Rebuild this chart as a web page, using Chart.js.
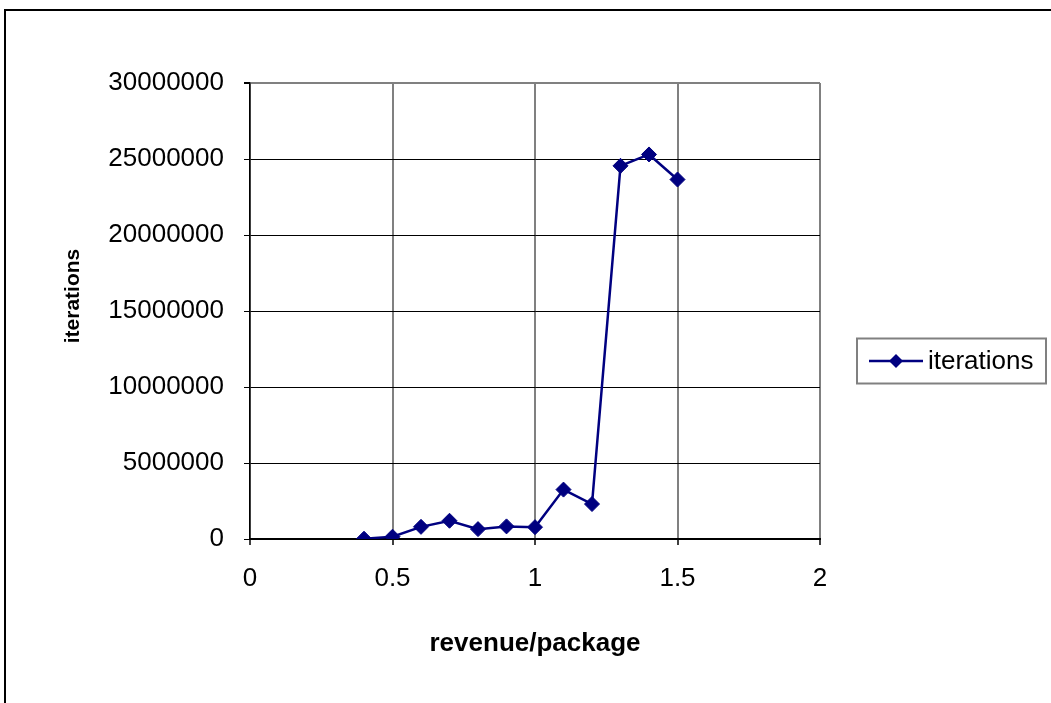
<!DOCTYPE html>
<html>
<head>
<meta charset="utf-8">
<script src="https://cdn.jsdelivr.net/npm/chart.js@4/dist/chart.umd.min.js"></script>
<style>
  html, body { margin: 0; padding: 0; background: #fff; }
  #wrap { width: 1051px; height: 703px; }
</style>
</head>
<body>
<div id="wrap"><canvas id="c" width="1051" height="703"></canvas></div>
<script>
// revenue per package (x) and the iteration count reached (y)
const revenue = [0.4, 0.5, 0.6, 0.7, 0.8, 0.9, 1.0, 1.1, 1.2, 1.3, 1.4, 1.5];
const iterations = [20000, 150000, 800000, 1200000, 650000, 830000, 780000,
                    3250000, 2300000, 24550000, 25300000, 23650000];
const xTicks = [0, 0.5, 1, 1.5, 2];
const yTicks = [0, 5000000, 10000000, 15000000, 20000000, 25000000, 30000000];

const seriesName = 'iterations';
const xTitle = 'revenue/package';
const yTitle = 'iterations';

const FONT = "'Liberation Sans', Arial, sans-serif";
const NAVY = '#000080';

const points = revenue.map((x, i) => ({ x: x, y: iterations[i] }));

// frame round the whole chart (only left and top edges fall inside the page)
const framePlugin = {
  id: 'frame',
  beforeDraw(chart) {
    const ctx = chart.ctx;
    ctx.save();
    ctx.fillStyle = '#fff';
    ctx.fillRect(0, 0, chart.width, chart.height);
    ctx.strokeStyle = '#000';
    ctx.lineWidth = 2;
    ctx.beginPath();
    ctx.moveTo(5, chart.height + 5);
    ctx.lineTo(5, 10);
    ctx.lineTo(chart.width + 5, 10);
    ctx.stroke();
    ctx.restore();
  }
};

// rotated value-axis title, set a little above the plot's middle
const yTitlePlugin = {
  id: 'yTitle',
  afterDraw(chart) {
    const ctx = chart.ctx;
    const area = chart.chartArea;
    ctx.save();
    ctx.translate(73, (area.top + area.bottom) / 2 - 15);
    ctx.rotate(-Math.PI / 2);
    ctx.fillStyle = '#000';
    ctx.font = 'bold 21px ' + FONT;
    ctx.textAlign = 'center';
    ctx.textBaseline = 'middle';
    ctx.fillText(yTitle, 0, 0);
    ctx.restore();
  }
};

// boxed legend: line with a diamond marker, then the series name
const legendPlugin = {
  id: 'boxLegend',
  afterDraw(chart) {
    const ctx = chart.ctx;
    const area = chart.chartArea;
    const ds = chart.data.datasets[0];
    const left = area.right + 37;
    const right = chart.width - 5;
    const cy = (area.top + area.bottom) / 2 + 50;
    const h = 45;
    ctx.save();
    ctx.strokeStyle = '#808080';
    ctx.lineWidth = 2;
    ctx.strokeRect(left, cy - h / 2, right - left, h);
    // sample line
    const lx0 = left + 12, lx1 = left + 66, mx = (lx0 + lx1) / 2;
    ctx.strokeStyle = ds.borderColor;
    ctx.lineWidth = 2.5;
    ctx.beginPath();
    ctx.moveTo(lx0, cy);
    ctx.lineTo(lx1, cy);
    ctx.stroke();
    // diamond marker
    const r = 7;
    ctx.fillStyle = ds.pointBackgroundColor;
    ctx.beginPath();
    ctx.moveTo(mx - r, cy);
    ctx.lineTo(mx, cy - r);
    ctx.lineTo(mx + r, cy);
    ctx.lineTo(mx, cy + r);
    ctx.closePath();
    ctx.fill();
    ctx.fillStyle = '#000';
    ctx.font = '26px ' + FONT;
    ctx.textAlign = 'left';
    ctx.textBaseline = 'middle';
    ctx.fillText(ds.label, lx1 + 5, cy + 1);
    ctx.restore();
  }
};

new Chart(document.getElementById('c'), {
  type: 'line',
  data: {
    datasets: [{
      label: seriesName,
      data: points,
      borderColor: NAVY,
      backgroundColor: NAVY,
      borderWidth: 2.5,
      pointStyle: 'rectRot',
      pointRadius: 7.5,
      pointBackgroundColor: NAVY,
      pointBorderColor: NAVY,
      pointBorderWidth: 1,
      tension: 0,
      fill: false
    }]
  },
  options: {
    responsive: false,
    animation: false,
    devicePixelRatio: 1,
    layout: { padding: { left: 0, right: 231, top: 83, bottom: 0 } },
    plugins: {
      legend: { display: false },
      tooltip: { enabled: false }
    },
    scales: {
      x: {
        type: 'linear',
        position: 'bottom',
        min: xTicks[0],
        max: xTicks[xTicks.length - 1],
        afterBuildTicks(scale) { scale.ticks = xTicks.map(v => ({ value: v })); },
        afterFit(scale) { scale.height = 164; },
        ticks: {
          color: '#000',
          font: { family: FONT, size: 26 },
          padding: 18,
          maxRotation: 0,
          callback: v => String(v)
        },
        grid: {
          color: '#808080',
          lineWidth: 2,
          tickColor: '#000',
          tickLength: 6,
          tickWidth: 1.5,
          drawTicks: true
        },
        border: { display: true, color: '#000', width: 2 },
        title: {
          display: true,
          text: xTitle,
          color: '#000',
          font: { family: FONT, size: 26, weight: 'bold' },
          padding: { top: 0, bottom: 44 }
        }
      },
      y: {
        type: 'linear',
        min: yTicks[0],
        max: yTicks[yTicks.length - 1],
        afterBuildTicks(scale) { scale.ticks = yTicks.map(v => ({ value: v })); },
        afterFit(scale) { scale.width = 250; },
        ticks: {
          color: '#000',
          font: { family: FONT, size: 26 },
          padding: 20,
          callback: v => String(v)
        },
        grid: {
          color: c => (c.tick && c.tick.value === yTicks[yTicks.length - 1]) ? '#808080' : '#000',
          lineWidth: c => (c.tick && c.tick.value === yTicks[yTicks.length - 1]) ? 2 : 1,
          tickColor: '#000',
          tickLength: 6,
          drawTicks: true
        },
        border: { display: true, color: '#000', width: 1.5 },
        title: { display: false }
      }
    }
  },
  plugins: [framePlugin, yTitlePlugin, legendPlugin]
});
</script>
</body>
</html>
